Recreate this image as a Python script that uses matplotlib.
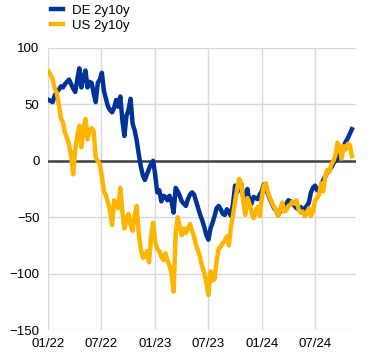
import numpy as np
import pandas as pd
import matplotlib
matplotlib.use("Agg")
import matplotlib.pyplot as plt

plt.rcParams["font.family"] = ["Liberation Sans", "DejaVu Sans"]

# weekly readings, basis points
de_2y10y = [54, 53, 52, 58, 61, 63, 66, 65, 68, 70,
            72, 68, 64, 61, 72, 82, 65, 74, 80, 65,
            70, 69, 60, 52, 69, 72, 78, 62, 55, 48,
            45, 43, 47, 54, 48, 57, 36, 22, 40, 45,
            55, 33, 27, 18, 6, -5, -13, -17, -12, -7,
            -3, 0, -12, -28, -26, -36, -31, -32, -35, -31,
            -36, -46, -24, -27, -31, -36, -38, -40, -34, -30,
            -28, -30, -36, -42, -48, -53, -59, -66, -70, -60,
            -55, -49, -42, -40, -43, -47, -48, -43, -45, -49,
            -38, -22, -28, -24, -20, -33, -35, -25, -36, -38,
            -32, -33, -34, -30, -27, -21, -26, -29, -34, -38,
            -42, -44, -48, -45, -42, -40, -38, -35, -36, -37,
            -40, -42, -43, -41, -44, -42, -40, -37, -28, -24,
            -22, -26, -27, -22, -17, -14, -10, -8, -6, -2,
            0, 2, 6, 10, 13, 17, 20, 24, 28]
us_2y10y = [79, 76, 72, 64, 60, 50, 38, 34, 25, 20,
            14, 5, -12, 10, 22, 31, 12, 28, 37, 19,
            27, 29, 26, 3, 0, -3, -14, -27, -31, -37,
            -45, -57, -35, -40, -42, -24, -45, -60, -52, -47,
            -57, -62, -48, -40, -65, -78, -86, -85, -80, -90,
            -68, -55, -72, -78, -80, -85, -88, -82, -88, -93,
            -100, -116, -65, -50, -58, -66, -60, -64, -60, -56,
            -62, -67, -75, -80, -86, -94, -99, -108, -119, -98,
            -106, -105, -88, -78, -76, -73, -71, -67, -75, -58,
            -48, -36, -25, -16, -20, -36, -48, -33, -38, -45,
            -51, -45, -41, -49, -33, -22, -20, -28, -33, -37,
            -41, -44, -49, -43, -37, -45, -44, -40, -39, -36,
            -38, -35, -43, -46, -45, -49, -47, -42, -49, -45,
            -35, -33, -30, -20, -27, -14, -8, -10, -3, 0,
            5, 16, 12, 2, 13, 10, 15, 14, 4]
dates = pd.date_range("2022-01-03", periods=len(de_2y10y), freq="7D")

tick_dates = pd.to_datetime(["2022-01-01", "2022-07-01", "2023-01-01",
                             "2023-07-01", "2024-01-01", "2024-07-01"])
tick_labels = ["01/22", "07/22", "01/23", "07/23", "01/24", "07/24"]

fig = plt.figure(figsize=(3.72, 3.57), dpi=100)
ax = fig.add_axes([0.129, 0.0756, 0.828, 0.79])

ax.plot(dates, de_2y10y, color="#003299", lw=3.2, label="DE 2y10y", solid_joinstyle="round")
ax.plot(dates, us_2y10y, color="#FFB400", lw=3.2, label="US 2y10y", solid_joinstyle="round")
ax.axhline(0, color="#404040", lw=1.8, zorder=1.5)

ax.set_ylim(-150, 100)
ax.set_yticks([-150, -100, -50, 0, 50, 100])
ax.set_xlim(pd.Timestamp("2022-01-01"), pd.Timestamp("2024-11-18"))
ax.set_xticks(tick_dates)
ax.set_xticklabels(tick_labels)
ax.grid(True, color="#d9d9d9", lw=1)
ax.set_axisbelow(True)
for s in ax.spines.values():
    s.set_visible(False)
ax.tick_params(length=0, labelsize=9.5, pad=6)

fig.legend(loc="upper left", bbox_to_anchor=(0.105, 1.02), frameon=False,
           fontsize=9.5, handlelength=0.9, handletextpad=0.7, labelspacing=0.2)

fig.savefig("out.png", dpi=100)
